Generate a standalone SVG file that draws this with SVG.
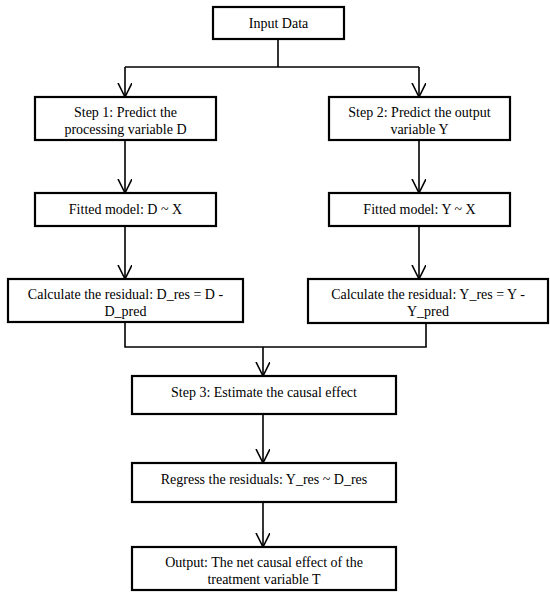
<svg xmlns="http://www.w3.org/2000/svg" width="550" height="599" viewBox="0 0 550 599">
<defs>
<marker id="arr" markerWidth="16" markerHeight="16" refX="14" refY="7" orient="auto" markerUnits="userSpaceOnUse">
<path d="M0,0 L14,7 L0,14" fill="none" stroke="#000" stroke-width="1.6"/>
</marker>
<style>
.box{fill:#fff;stroke:#000;stroke-width:2.2}
.t{font-family:"Liberation Serif","Times New Roman",serif;font-size:14px;fill:#000;text-anchor:middle}
.c{fill:none;stroke:#000;stroke-width:1.6}
</style>
</defs>
<rect width="550" height="599" fill="#fff"/>
<g id="connectors">
<path class="c" d="M278,39 V67 M125,67 H419"/>
<path class="c" d="M125,67 V97" marker-end="url(#arr)"/>
<path class="c" d="M419,67 V97" marker-end="url(#arr)"/>
<path class="c" d="M125,140 V193" marker-end="url(#arr)"/>
<path class="c" d="M419,140 V193" marker-end="url(#arr)"/>
<path class="c" d="M125,226 V279" marker-end="url(#arr)"/>
<path class="c" d="M419,226 V279" marker-end="url(#arr)"/>
<path class="c" d="M125,322 V347 H426 V323"/>
<path class="c" d="M263,347 V376" marker-end="url(#arr)"/>
<path class="c" d="M263,414 V463" marker-end="url(#arr)"/>
<path class="c" d="M263,502 V547" marker-end="url(#arr)"/>
</g>
<g id="input"><rect class="box" x="213" y="7" width="131" height="32"/><text class="t" x="278.5" y="28">Input Data</text></g>
<g id="step1"><rect class="box" x="35" y="97" width="181" height="43"/><text class="t" x="125.5" y="117">Step 1: Predict the</text><text class="t" x="125.5" y="134">processing variable D</text></g>
<g id="step2"><rect class="box" x="329" y="97" width="181" height="43"/><text class="t" x="419.5" y="117">Step 2: Predict the output</text><text class="t" x="419.5" y="134">variable Y</text></g>
<g id="fitD"><rect class="box" x="35" y="193" width="181" height="33"/><text class="t" x="125.5" y="214">Fitted model: D ~ X</text></g>
<g id="fitY"><rect class="box" x="329" y="193" width="181" height="33"/><text class="t" x="419.5" y="214">Fitted model: Y ~ X</text></g>
<g id="calcD"><rect class="box" x="8" y="279" width="235" height="43"/><text class="t" x="125.5" y="299">Calculate the residual: D_res = D -</text><text class="t" x="125.5" y="316">D_pred</text></g>
<g id="calcY"><rect class="box" x="308" y="279" width="240" height="44"/><text class="t" x="428" y="299">Calculate the residual: Y_res = Y -</text><text class="t" x="428" y="316">Y_pred</text></g>
<g id="step3"><rect class="box" x="132" y="376" width="264" height="38"/><text class="t" x="264" y="397">Step 3: Estimate the causal effect</text></g>
<g id="regress"><rect class="box" x="132" y="463" width="264" height="39"/><text class="t" x="264" y="484">Regress the residuals: Y_res ~ D_res</text></g>
<g id="output"><rect class="box" x="132" y="547" width="264" height="43"/><text class="t" x="264" y="567">Output: The net causal effect of the</text><text class="t" x="264" y="584">treatment variable T</text></g>
</svg>
